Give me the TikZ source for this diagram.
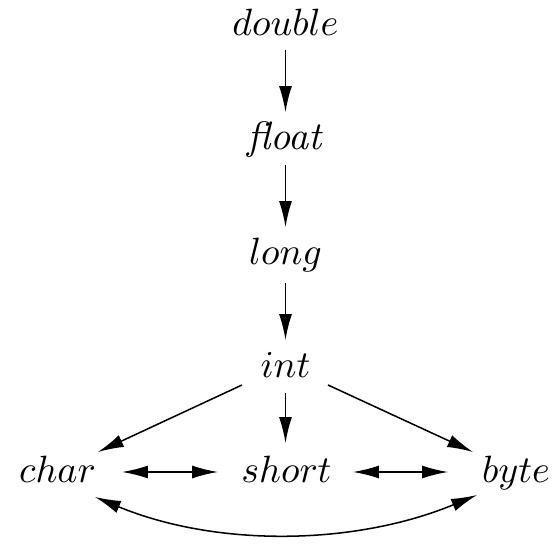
\documentclass[tikz,border=0pt]{standalone}
\usetikzlibrary{arrows.meta,calc}
\begin{document}
\begin{tikzpicture}[x=0.263pt,y=-0.263pt,
  tname/.style={anchor=base,inner sep=0pt,font=\fontsize{10.4}{12}\selectfont},
  arr/.style={line width=0.4pt,-{Latex[length=6.8pt,width=3.4pt]}},
  darr/.style={line width=0.4pt,{Latex[length=6.8pt,width=3.4pt]}-{Latex[length=6.8pt,width=3.4pt]}}]
\useasboundingbox (0,0) rectangle (553,545);
\node[tname] (double) at (285.5,35) {$double$};
\node[tname] (float) at (285.5,150) {\textit{float}};
\node[tname] (long) at (285.5,265) {$long$};
\node[tname] (int) at (285.5,378) {$int$};
\node[tname] (char) at (57.5,483) {$char$};
\node[tname] (short) at (286.5,483) {$short$};
\node[tname] (byte) at (516,483) {$byte$};
\draw[arr] ($(double.base)+(0,15)$) -- ($(float.base)+(0,-38)$);
\draw[arr] ($(float.base)+(0,15)$) -- ($(long.base)+(0,-38)$);
\draw[arr] ($(long.base)+(0,18)$) -- ($(int.base)+(0,-38)$);
\draw[arr] ($(int.base)+(0,15)$) -- ($(short.base)+(-1,-40)$);
\draw[arr] ($(int.base)+(-43.5,7)$) -- ($(char.base)+(40.5,-31)$);
\draw[arr] ($(int.base)+(42.5,7)$) -- ($(byte.base)+(-43,-31)$);
\draw[darr] ($(char.base)+(64.5,-11)$) -- ($(short.base)+(-68.5,-11)$);
\draw[darr] ($(short.base)+(66.5,-11)$) -- ($(byte.base)+(-68,-11)$);
\draw[darr] ($(char.base)+(37.5,14)$) .. controls +(22.5:132) and +(157.5:132) .. ($(byte.base)+(-39,12)$);
\end{tikzpicture}
\end{document}
